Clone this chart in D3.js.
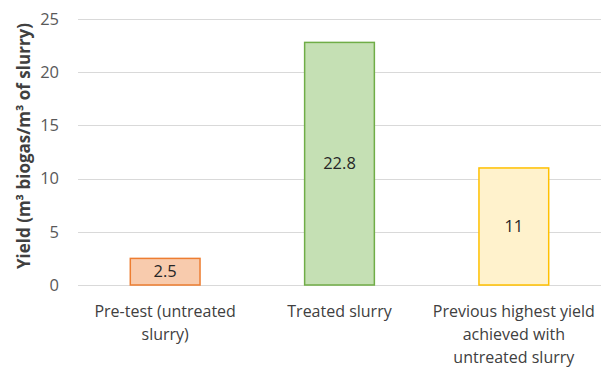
<!DOCTYPE html>
<html><head><meta charset="utf-8">
<script src="https://cdn.jsdelivr.net/npm/d3@7"></script>
<style>body{margin:0;background:#fff}svg{display:block}text{font-family:"Open Sans","Liberation Sans",sans-serif}</style>
</head><body>
<script>
const categories = [["Pre-test (untreated","slurry)"],["Treated slurry"],["Previous highest yield","achieved with","untreated slurry"]];
const values = [2.5, 22.8, 11];
const fills = ["#F8CBAD","#C5E0B4","#FFF2CC"];
const strokes = ["#ED7D31","#70AD47","#FFC000"];
const yTicks = [0,5,10,15,20,25];
const yTitle = "Yield (m³ biogas/m³ of slurry)";

const W=601,H=367;
const svg=d3.select("body").append("svg").attr("width",W).attr("height",H);
const x=d3.scaleBand().domain(d3.range(values.length)).range([78,601]).paddingInner(0.6).paddingOuter(0.3);
const y=d3.scaleLinear().domain([0,25]).range([285,19]);

svg.append("g").selectAll("line").data(yTicks).join("line")
 .attr("x1",78).attr("x2",601).attr("y1",d=>Math.round(y(d))+0.5).attr("y2",d=>Math.round(y(d))+0.5)
 .attr("stroke","#d9d9d9").attr("stroke-width",1);
svg.append("g").selectAll("text").data(yTicks).join("text")
 .attr("x",59).attr("y",d=>y(d)).attr("dy","0.35em").attr("text-anchor","end")
 .attr("font-size",16.5).attr("fill","#595959").text(d=>d);

svg.append("g").selectAll("rect").data(values).join("rect")
 .attr("x",(d,i)=>x(i)).attr("width",x.bandwidth())
 .attr("y",d=>y(d)).attr("height",d=>y(0)-y(d))
 .attr("fill",(d,i)=>fills[i]).attr("stroke",(d,i)=>strokes[i]).attr("stroke-width",1.5);

svg.append("g").selectAll("text").data(values).join("text")
 .attr("x",(d,i)=>x(i)+x.bandwidth()/2).attr("y",d=>(y(d)+y(0))/2).attr("dy","0.35em")
 .attr("text-anchor","middle").attr("font-size",16.5).attr("fill","#262626").text(d=>d);

const cg=svg.append("g");
categories.forEach((lines,i)=>{
  const t=cg.append("text").attr("text-anchor","middle").attr("font-size",16).attr("fill","#404040");
  lines.forEach((l,j)=>t.append("tspan").attr("x",x(i)+x.bandwidth()/2).attr("y",317+j*23).text(l));
});

svg.append("text").attr("transform","translate(30,146) rotate(-90)")
 .attr("text-anchor","middle").attr("font-size",17).attr("font-weight","bold").attr("fill","#404040")
 .text(yTitle);
</script>
</body></html>
